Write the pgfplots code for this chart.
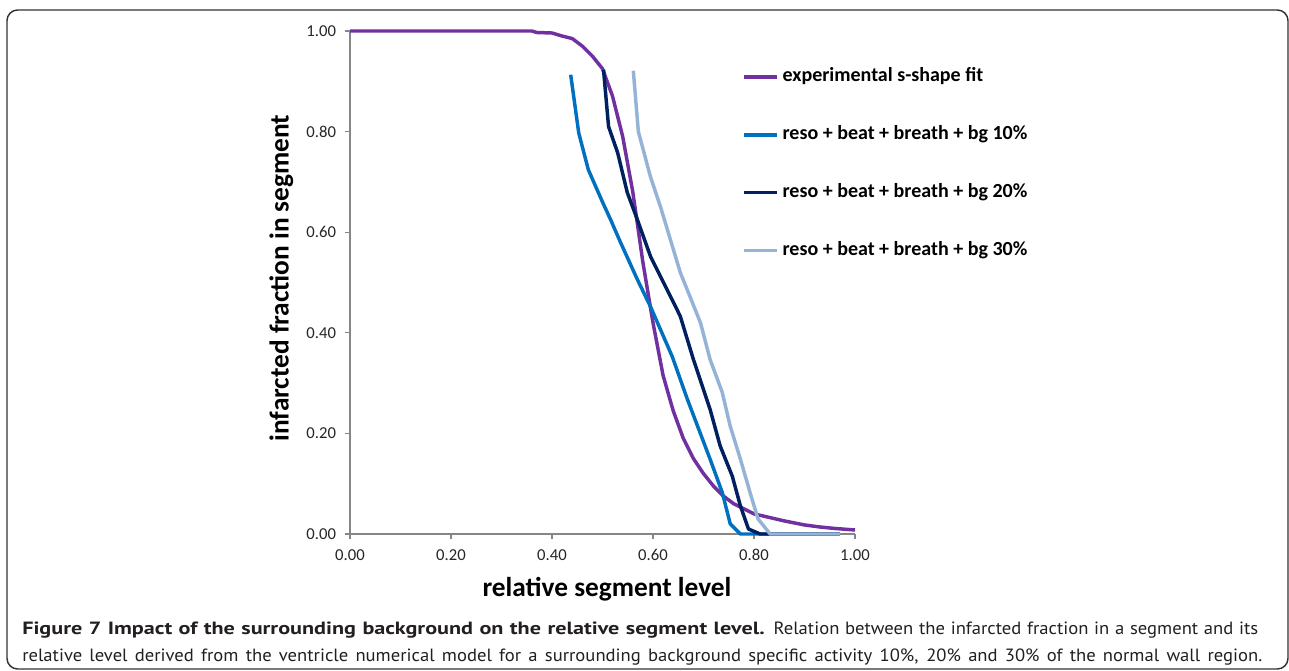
\documentclass[border=0pt]{standalone}
\usepackage{fontspec}
\setmainfont{Carlito}
\newfontfamily\capfont[FakeStretch=1.05]{PT Sans}
\newfontfamily\capboldfont[FakeStretch=1.25]{PT Sans}
\usepackage{pgfplots}
\pgfplotsset{compat=1.18}
\definecolor{cPurple}{HTML}{7030A0}
\definecolor{cBlue}{HTML}{0070C0}
\definecolor{cNavy}{HTML}{002060}
\definecolor{cLight}{HTML}{95B3D7}
\definecolor{axgray}{HTML}{868686}
\definecolor{captxt}{HTML}{231F20}
\begin{document}
\begin{tikzpicture}
\begin{scope}[x=0.75pt,y=0.75pt]
\useasboundingbox (0,0) rectangle (1289,671);
% frame round the figure
\draw[line width=1.1pt, black!80, rounded corners=8pt] (7,2) rectangle (1288,661);
% caption
\node[anchor=base west, inner sep=0pt, captxt, font=\capfont\fontsize{13.3}{15}\selectfont] at (22,36)
  {\makebox[927pt][s]{{\capboldfont\bfseries Figure 7 Impact of the surrounding background on the relative segment level.} Relation between the infarcted fraction in a segment and its}};
\node[anchor=base west, inner sep=0pt, captxt, font=\capfont\fontsize{13.3}{15}\selectfont] at (22,9)
  {\makebox[930pt][s]{relative level derived from the ventricle numerical model for a surrounding background specific activity 10\%, 20\% and 30\% of the normal wall region.}};
\end{scope}
\begin{axis}[
    at={(262.5pt,102.75pt)}, anchor=south west,
    scale only axis, width=378.75pt, height=377.25pt,
    xmin=0, xmax=1, ymin=0, ymax=1,
    clip=false,
    axis x line=bottom, axis y line=left,
    axis line style={axgray, line width=1.1pt, -},
    xtick={0,0.2,...,1.0}, ytick={0,0.2,...,1.0},
    tick align=outside, major tick length=4pt,
    tick style={axgray, line width=0.8pt},
    /pgf/number format/fixed,
    /pgf/number format/fixed zerofill,
    /pgf/number format/precision=2,
    /pgf/number format/assume math mode=true,
    tick label style={font=\fontsize{12.5}{14}\selectfont, black!85},
    xticklabel style={yshift=-4pt},
    yticklabel style={xshift=-3pt},
    xlabel={\textbf{relative segment level}},
    ylabel={\textbf{infarcted fraction in segment}},
    label style={font=\fontsize{20.5}{22}\selectfont, black},
    x label style={at={(axis description cs:0.509,-0.125)}, anchor=base},
    y label style={at={(axis description cs:-0.136,0.509)}, anchor=center, rotate=0},
    legend cell align=left,
    legend style={at={(axis description cs:0.776,0.926)}, anchor=north west,
        draw=none, fill=none, font=\fontsize{15}{17}\selectfont\bfseries,
        row sep=30.3pt, inner sep=0pt,
        nodes={inner sep=0pt, text height=10pt, text depth=3pt},
        /tikz/every odd column/.style={column sep=3pt}},
    legend image code/.code={\draw[#1, line width=2.6pt] (0pt,0pt) -- (24.75pt,0pt);},
    every axis plot/.append style={line width=2.6pt, line join=round},
]
\addplot[cPurple] coordinates {
  (0,1) (0.36,1) (0.37,0.997) (0.40,0.996) (0.42,0.99) (0.44,0.985) (0.46,0.97)
  (0.48,0.95) (0.50,0.925) (0.52,0.87) (0.54,0.79) (0.56,0.68) (0.58,0.54)
  (0.60,0.42) (0.62,0.315) (0.64,0.245) (0.66,0.19) (0.68,0.15) (0.70,0.12)
  (0.72,0.095) (0.74,0.075) (0.76,0.06) (0.78,0.05) (0.80,0.04) (0.83,0.033)
  (0.86,0.026) (0.88,0.022) (0.90,0.018) (0.93,0.014) (0.96,0.011) (1.0,0.008)
};
\addlegendentry{experimental s-shape fit}
\addplot[cBlue] coordinates {
  (0.437,0.913) (0.453,0.797) (0.472,0.724) (0.50,0.66) (0.516,0.625)
  (0.536,0.579) (0.569,0.506) (0.595,0.452) (0.638,0.353) (0.668,0.268)
  (0.713,0.149) (0.737,0.083) (0.753,0.02) (0.773,0) (0.97,0)
};
\addlegendentry{reso + beat + breath + bg 10\%}
\addplot[cNavy] coordinates {
  (0.502,0.923) (0.512,0.81) (0.53,0.758) (0.549,0.679) (0.569,0.625)
  (0.595,0.552) (0.654,0.433) (0.68,0.347) (0.713,0.248) (0.733,0.175)
  (0.757,0.115) (0.773,0.056) (0.789,0.01) (0.812,0) (0.97,0)
};
\addlegendentry{reso + beat + breath + bg 20\%}
\addplot[cLight] coordinates {
  (0.561,0.921) (0.571,0.80) (0.595,0.71) (0.615,0.65) (0.654,0.52)
  (0.694,0.42) (0.713,0.347) (0.737,0.282) (0.753,0.214) (0.773,0.149)
  (0.792,0.083) (0.808,0.03) (0.832,0) (0.97,0)
};
\addlegendentry{reso + beat + breath + bg 30\%}
\end{axis}
\end{tikzpicture}
\end{document}
